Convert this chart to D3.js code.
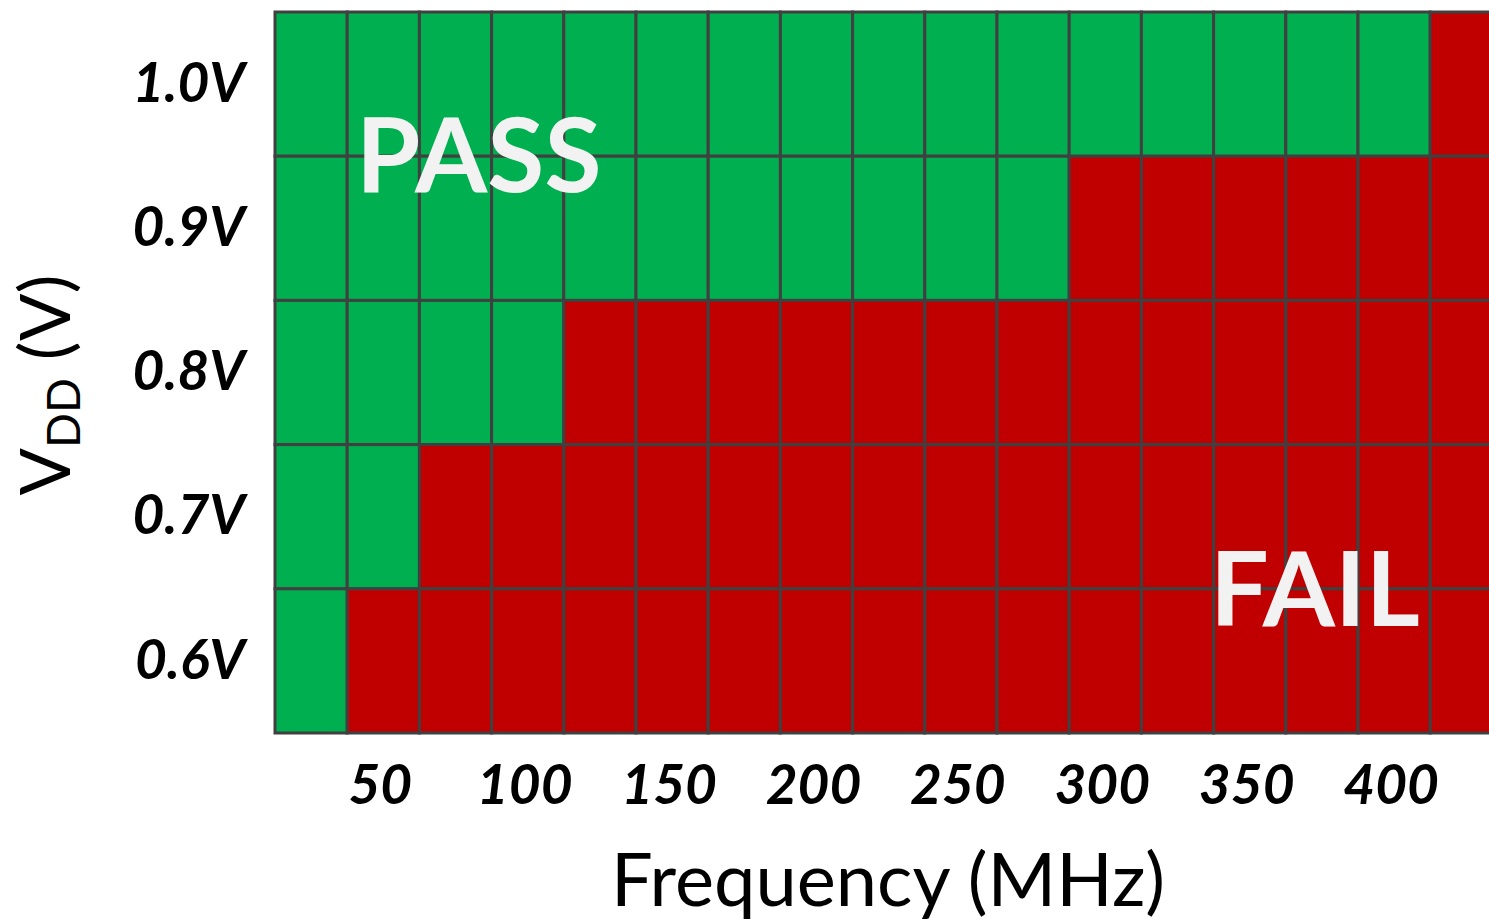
<!DOCTYPE html>
<html>
<head>
<meta charset="utf-8">
<script src="https://cdn.jsdelivr.net/npm/d3@7"></script>
<style>
  html, body { margin: 0; padding: 0; background: #ffffff; }
  svg { display: block; }
</style>
</head>
<body>
<svg id="chart" width="1489" height="919"></svg>
<script>
// Shmoo plot: supply voltage vs. clock frequency
const frequencies = [25, 50, 75, 100, 125, 150, 175, 200, 225, 250, 275, 300, 325, 350, 375, 400, 425];
const voltages = ["1.0V", "0.9V", "0.8V", "0.7V", "0.6V"];
// highest frequency (MHz) that still passes at each voltage
const maxPassFreq = [400, 275, 100, 50, 25];
const xTickLabels = [50, 100, 150, 200, 250, 300, 350, 400];

const svg = d3.select("#chart");
const plotLeft = 275, plotTop = 12, plotBottom = 733, colW = 72.2;

const x = d3.scaleBand().domain(frequencies).range([plotLeft, plotLeft + frequencies.length * colW]);
const y = d3.scaleBand().domain(voltages).range([plotTop, plotBottom]);

const cells = [];
voltages.forEach((v, i) => {
  frequencies.forEach(f => cells.push({ v, f, pass: f <= maxPassFreq[i] }));
});

svg.append("g")
  .selectAll("rect")
  .data(cells)
  .join("rect")
  .attr("x", d => x(d.f))
  .attr("y", d => y(d.v))
  .attr("width", x.bandwidth())
  .attr("height", y.bandwidth())
  .attr("fill", d => d.pass ? "#00B050" : "#C00000")
  .attr("stroke", "#404040")
  .attr("stroke-width", 3);

// Axes
const labelFont = "Lato, 'Open Sans', sans-serif";

const yAxis = svg.append("g")
  .attr("transform", `translate(${plotLeft},0)`)
  .call(d3.axisLeft(y).tickSize(0).tickPadding(30));
yAxis.select(".domain").remove();
yAxis.selectAll("text")
  .attr("font-family", labelFont)
  .attr("font-size", 55)
  .attr("font-weight", "bold")
  .attr("font-style", "italic")
  .attr("fill", "#000");

const xAxis = svg.append("g")
  .attr("transform", `translate(0,${plotBottom})`)
  .call(d3.axisBottom(x).tickValues(xTickLabels).tickSize(0).tickPadding(32));
xAxis.select(".domain").remove();
xAxis.selectAll("text")
  .attr("font-family", labelFont)
  .attr("font-size", 55)
  .attr("font-weight", "bold")
  .attr("font-style", "italic")
  .attr("dx", -3)
  .attr("fill", "#000");

// Axis titles
svg.append("text")
  .attr("x", 888)
  .attr("y", 906)
  .attr("text-anchor", "middle")
  .attr("font-family", labelFont)
  .attr("font-size", 74)
  .attr("fill", "#000")
  .text("Frequency (MHz)");

const yTitle = svg.append("text")
  .attr("transform", "translate(70,385) rotate(-90)")
  .attr("text-anchor", "middle")
  .attr("font-family", labelFont)
  .attr("font-size", 70)
  .attr("fill", "#000");
yTitle.append("tspan").text("V");
yTitle.append("tspan").attr("font-size", 46).attr("dy", 10).text("DD");
yTitle.append("tspan").attr("dy", -10).text(" (V)");

// Region annotations
svg.append("text")
  .attr("x", 356)
  .attr("y", 192)
  .attr("font-family", labelFont)
  .attr("font-size", 104)
  .attr("font-weight", "bold")
  .attr("fill", "#F2F2F2")
  .text("PASS");

svg.append("text")
  .attr("x", 1210)
  .attr("y", 626)
  .attr("font-family", labelFont)
  .attr("font-size", 104)
  .attr("font-weight", "bold")
  .attr("fill", "#F2F2F2")
  .text("FAIL");
</script>
</body>
</html>
